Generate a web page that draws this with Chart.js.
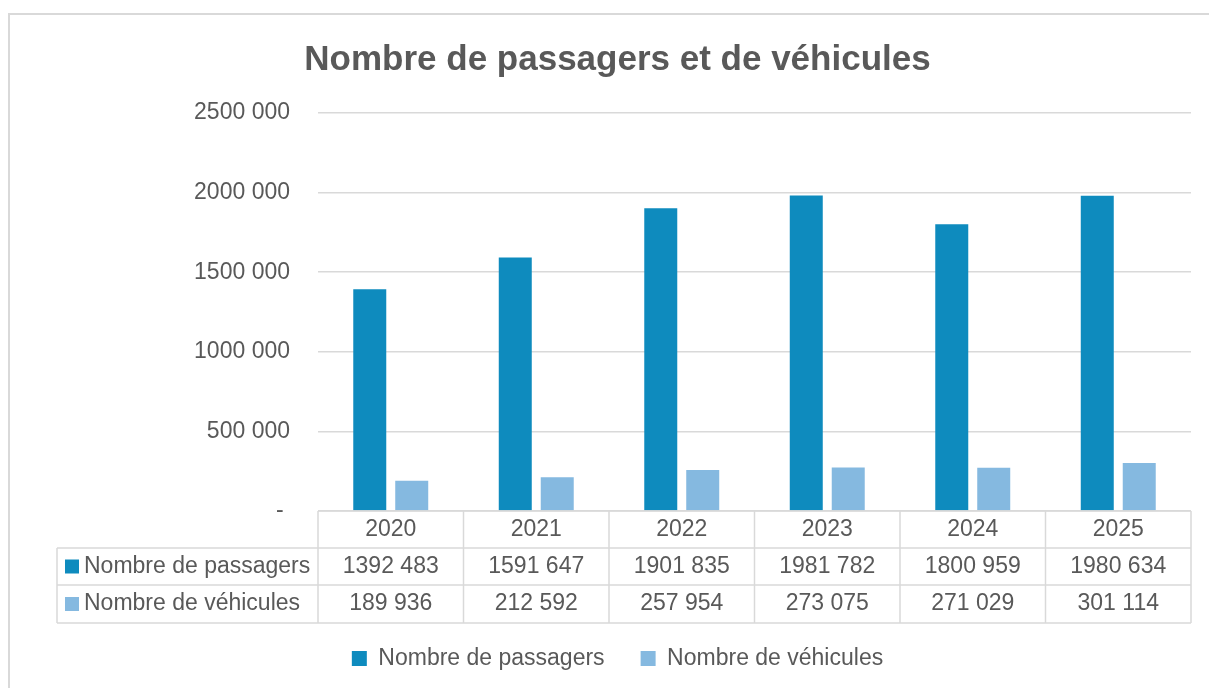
<!DOCTYPE html>
<html lang="fr">
<head>
<meta charset="utf-8">
<title>Nombre de passagers et de véhicules</title>
<script src="https://cdn.jsdelivr.net/npm/chart.js@4.4.1/dist/chart.umd.min.js"></script>
<style>
  html, body { margin: 0; padding: 0; background: #fff; }
  #cadre { width: 1209px; height: 688px; position: relative; }
</style>
</head>
<body>
<div id="cadre"><canvas id="graphique"></canvas></div>
<script>
// Données
const annees = ['2020', '2021', '2022', '2023', '2024', '2025'];
const passagers = [1392483, 1591647, 1901835, 1981782, 1800959, 1980634];
const vehicules = [189936, 212592, 257954, 273075, 271029, 301114];
const graduations = [0, 500000, 1000000, 1500000, 2000000, 2500000];

const police = '"Liberation Sans", Arial, sans-serif';
const gris = '#595959';
const trait = '#D9D9D9';

// Format "1392 483" (séparateur seulement avant les trois derniers chiffres)
function formater(v) {
    if (v === 0) return '- ';
    const mille = Math.floor(v / 1000);
    const reste = String(v % 1000).padStart(3, '0');
    return mille + ' ' + reste;
}

// Fond blanc et bordure du graphique
const fond = {
    id: 'fond',
    beforeDraw(chart) {
        const { ctx, width, height } = chart;
        ctx.save();
        ctx.fillStyle = '#fff';
        ctx.fillRect(0, 0, width, height);
        ctx.strokeStyle = trait;
        ctx.lineWidth = 2;
        ctx.strokeRect(9, 14, width + 20, height + 20);
        ctx.restore();
    }
};

// Table de données sous le graphique
const tableau = {
    id: 'tableau',
    afterDraw(chart) {
        const { ctx, chartArea, scales: { x } } = chart;
        const n = annees.length;
        const cw = (chartArea.right - chartArea.left) / n;
        const h = chartArea.bottom;
        const lignes = [h, h + 37, h + 74, h + 112];
        const gauche = 57;
        ctx.save();
        ctx.strokeStyle = trait;
        ctx.lineWidth = 1.5;
        ctx.beginPath();
        ctx.moveTo(chartArea.left, lignes[0]);
        ctx.lineTo(chartArea.right, lignes[0]);
        for (let k = 1; k < 4; k++) {
            ctx.moveTo(gauche, lignes[k]);
            ctx.lineTo(chartArea.right, lignes[k]);
        }
        for (let i = 0; i <= n; i++) {
            const px = chartArea.left + i * cw;
            ctx.moveTo(px, lignes[0]);
            ctx.lineTo(px, lignes[3]);
        }
        ctx.moveTo(gauche, lignes[1]);
        ctx.lineTo(gauche, lignes[3]);
        ctx.stroke();

        ctx.font = '23px ' + police;
        ctx.textBaseline = 'middle';
        ctx.textAlign = 'center';
        ctx.fillStyle = gris;
        annees.forEach((a, i) => {
            const cx = x.getPixelForValue(i);
            ctx.fillText(a, cx, (lignes[0] + lignes[1]) / 2);
            chart.data.datasets.forEach((ds, j) => {
                ctx.fillText(formater(ds.data[i]), cx, (lignes[j + 1] + lignes[j + 2]) / 2);
            });
        });

        ctx.textAlign = 'left';
        chart.data.datasets.forEach((ds, j) => {
            const cy = (lignes[j + 1] + lignes[j + 2]) / 2;
            ctx.fillStyle = ds.backgroundColor;
            ctx.fillRect(65, cy - 7, 14, 14);
            ctx.fillStyle = gris;
            ctx.fillText(ds.label, 84, cy);
        });
        ctx.restore();
    }
};

const config = {
    type: 'bar',
    data: {
        labels: annees,
        datasets: [
            {
                label: 'Nombre de passagers',
                data: passagers,
                backgroundColor: '#0E8BBE'
            },
            {
                label: 'Nombre de véhicules',
                data: vehicules,
                backgroundColor: '#85B9E0'
            }
        ]
    },
    options: {
        responsive: true,
        maintainAspectRatio: false,
        animation: false,
        categoryPercentage: 0.577,
        barPercentage: 0.786,
        layout: {
            padding: { top: 20, left: 44, right: 18, bottom: 8 }
        },
        plugins: {
            title: {
                display: true,
                text: 'Nombre de passagers et de véhicules',
                color: gris,
                font: { family: police, size: 35, weight: 'bold' },
                padding: { top: 19, bottom: 32 }
            },
            legend: {
                position: 'bottom',
                labels: {
                    color: gris,
                    font: { family: police, size: 23 },
                    boxWidth: 15,
                    boxHeight: 15,
                    padding: 36
                }
            },
            tooltip: { enabled: false }
        },
        scales: {
            x: {
                ticks: { display: false },
                grid: { display: false },
                border: { display: false },
                afterFit(s) { s.height = 100; }
            },
            y: {
                min: 0,
                max: 2500000,
                afterBuildTicks(s) { s.ticks = graduations.map(v => ({ value: v })); },
                afterFit(s) { s.width = 274; },
                ticks: {
                    color: gris,
                    font: { family: police, size: 23 },
                    padding: 28,
                    callback: v => formater(v)
                },
                grid: { color: trait, lineWidth: 1.5, drawTicks: false },
                border: { display: false }
            }
        }
    },
    plugins: [fond, tableau]
};

const graphique = new Chart(document.getElementById('graphique'), config);
</script>
</body>
</html>
